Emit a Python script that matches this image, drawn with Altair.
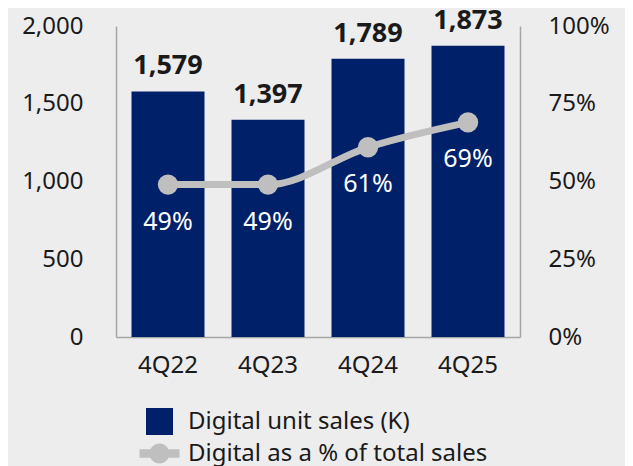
import altair as alt
import pandas as pd

quarters = ["4Q22", "4Q23", "4Q24", "4Q25"]
units = [1579, 1397, 1789, 1873]
digital_pct = [0.49, 0.49, 0.61, 0.69]
series_names = ["Digital unit sales (K)", "Digital as a % of total sales"]
left_ticks = [0, 500, 1000, 1500, 2000]
right_ticks = [0, 0.25, 0.5, 0.75, 1.0]

NAVY = "#002169"
GRAY = "#bfbfbf"
AXIS = "#a6a6a6"
TEXT = "#1a1a1a"
FONT = "Noto Sans"

df = pd.DataFrame({"quarter": quarters, "units": units, "pct": digital_pct,
                   "series": series_names[0]})
legend_df = pd.DataFrame({"series": series_names})

line_sym = ("M-1.48,-0.32L1.48,-0.32L1.48,0.32L-1.48,0.32Z "
            "M-0.74,0A0.74,0.74 0 1,1 0.74,0A0.74,0.74 0 1,1 -0.74,0Z")

x_enc = alt.X("quarter:N", sort=quarters,
              scale=alt.Scale(paddingInner=0.27, paddingOuter=0.155),
              axis=alt.Axis(title=None, labelAngle=0, ticks=False, tickSize=0,
                            labelPadding=16, labelFontSize=24, labelFont=FONT,
                            labelColor=TEXT, domainColor=AXIS, domainWidth=1.5))

y_left = alt.Y("units:Q", scale=alt.Scale(domain=[0, 2000], nice=False),
               axis=alt.Axis(title=None, values=left_ticks, format=",d", grid=False,
                             ticks=False, tickSize=0, labelPadding=33,
                             labelFontSize=24, labelFont=FONT, labelColor=TEXT,
                             domainColor=AXIS, domainWidth=1.5, orient="left"))

y_right = alt.Y("pct:Q", scale=alt.Scale(domain=[0, 1], nice=False),
                axis=alt.Axis(title=None, values=right_ticks, format=".0%", grid=False,
                              ticks=False, tickSize=0, labelPadding=28,
                              labelFontSize=24, labelFont=FONT, labelColor=TEXT,
                              domainColor=AXIS, domainWidth=1.5, orient="right"))

legend = alt.Legend(title=None, orient="none", legendX=30, legendY=382,
                    direction="vertical", symbolSize=729, symbolStrokeWidth=0,
                    labelFont=FONT, labelFontSize=24, labelColor=TEXT,
                    labelOffset=15, rowPadding=5, labelLimit=500)

color_enc = alt.Color("series:N", scale=alt.Scale(domain=series_names, range=[NAVY, GRAY]),
                      legend=legend)

bars = alt.Chart(df).mark_bar(opacity=1).encode(x=x_enc, y=y_left, color=color_enc)

bar_text = alt.Chart(df).mark_text(font=FONT, fontSize=27, fontWeight="bold",
                                   color=TEXT, baseline="alphabetic", dy=-17).encode(
    x=alt.X("quarter:N", sort=quarters),
    y=alt.Y("units:Q"),
    text=alt.Text("units:Q", format=",d"))

legend_layer = alt.Chart(legend_df).mark_point(filled=True, opacity=1).encode(
    color=color_enc,
    shape=alt.Shape("series:N", scale=alt.Scale(domain=series_names,
                                                range=["square", line_sym]),
                    legend=legend)
).transform_filter("datum.series == 'none'")

left_layer = alt.layer(bars, bar_text, legend_layer)

line = alt.Chart(df).mark_line(color=GRAY, strokeWidth=7, interpolate="monotone").encode(
    x=alt.X("quarter:N", sort=quarters), y=y_right)

points = alt.Chart(df).mark_circle(color=GRAY, size=415, opacity=1).encode(
    x=alt.X("quarter:N", sort=quarters), y=alt.Y("pct:Q"))

pct_text = alt.Chart(df).mark_text(font=FONT, fontSize=25, color="white",
                                   baseline="middle", dy=37).encode(
    x=alt.X("quarter:N", sort=quarters), y=alt.Y("pct:Q"),
    text=alt.Text("pct:Q", format=".0%"))

right_layer = alt.layer(line, points, pct_text)

chart = alt.layer(left_layer, right_layer).resolve_scale(y="independent").properties(
    width=404, height=311,
    autosize=alt.AutoSizeParams(type="none"),
    padding={"left": 108, "top": 18, "right": 105, "bottom": 129},
    background="#ededed",
).configure_view(strokeWidth=0)

chart.save("out.html", embed_options={"renderer": "svg", "actions": False})
